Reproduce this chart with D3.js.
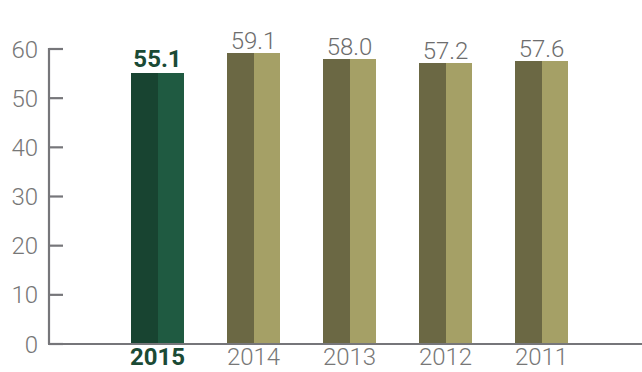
<!DOCTYPE html>
<html>
<head>
<meta charset="utf-8">
<script src="https://cdn.jsdelivr.net/npm/d3@7"></script>
<style>
  html, body { margin: 0; padding: 0; background: #fff; }
  svg { display: block; }
</style>
</head>
<body>
<svg id="chart" width="642" height="372"></svg>
<script>
// Yearly values, most recent first
const years = ["2015", "2014", "2013", "2012", "2011"];
const values = [55.1, 59.1, 58.0, 57.2, 57.6];
const yTicks = [0, 10, 20, 30, 40, 50, 60];
const highlightYear = "2015";

const W = 642, H = 372;
const svg = d3.select("#chart");
const font = "Roboto, 'Helvetica Neue', Arial, sans-serif";

const x = d3.scaleBand()
  .domain(years)
  .range([109.5, 589.5])
  .paddingInner(0.45)
  .paddingOuter(0.225);

const y = d3.scaleLinear().domain([0, 60]).range([344, 49]);

const axisColor = "#76767a";

// Y axis: vertical line with ticks pointing right into the plot
const yAxis = svg.append("g").attr("transform", "translate(49,0)");
yAxis.append("line")
  .attr("x1", 0).attr("x2", 0)
  .attr("y1", y(60) - 1).attr("y2", y(0))
  .attr("stroke", axisColor).attr("stroke-width", 2.2);
yAxis.selectAll("line.tick").data(yTicks).join("line")
  .attr("class", "tick")
  .attr("x1", 0).attr("x2", 14)
  .attr("y1", d => y(d)).attr("y2", d => y(d))
  .attr("stroke", axisColor).attr("stroke-width", 2.2);
yAxis.selectAll("text").data(yTicks).join("text")
  .attr("x", -11).attr("y", d => y(d))
  .attr("dy", "0.36em")
  .attr("text-anchor", "end")
  .attr("font-family", font).attr("font-weight", 300)
  .attr("font-size", 24).attr("fill", "#777")
  .text(d => d);

// Bars: each split into a darker left half and lighter right half
const bars = svg.append("g").attr("shape-rendering", "crispEdges");
const labels = svg.append("g");
years.forEach((yr, i) => {
  const v = values[i];
  const hi = yr === highlightYear;
  const x0 = x(yr), bw = x.bandwidth();
  bars.append("rect")
    .attr("x", x0).attr("y", y(v))
    .attr("width", bw / 2 + 0.5).attr("height", y(0) - y(v))
    .attr("fill", hi ? "#184431" : "#6b6844");
  bars.append("rect")
    .attr("x", x0 + bw / 2).attr("y", y(v))
    .attr("width", bw / 2).attr("height", y(0) - y(v))
    .attr("fill", hi ? "#1f5a41" : "#a5a066");
  labels.append("text")
    .attr("x", x0 + bw / 2).attr("y", y(v) - (hi ? 6 : 4))
    .attr("text-anchor", "middle")
    .attr("font-family", font)
    .attr("font-weight", hi ? 700 : 300)
    .attr("font-size", 24)
    .attr("fill", hi ? "#1b4a35" : "#6d6d6d")
    .text(v.toFixed(1));
  labels.append("text")
    .attr("x", x0 + bw / 2).attr("y", 365)
    .attr("text-anchor", "middle")
    .attr("font-family", font)
    .attr("font-weight", hi ? 700 : 300)
    .attr("font-size", 24)
    .attr("fill", hi ? "#1b4a35" : "#777")
    .text(yr);
});

// X axis baseline across the full width
svg.append("line")
  .attr("x1", 48).attr("x2", W)
  .attr("y1", y(0)).attr("y2", y(0))
  .attr("stroke", axisColor).attr("stroke-width", 2.2);
</script>
</body>
</html>
